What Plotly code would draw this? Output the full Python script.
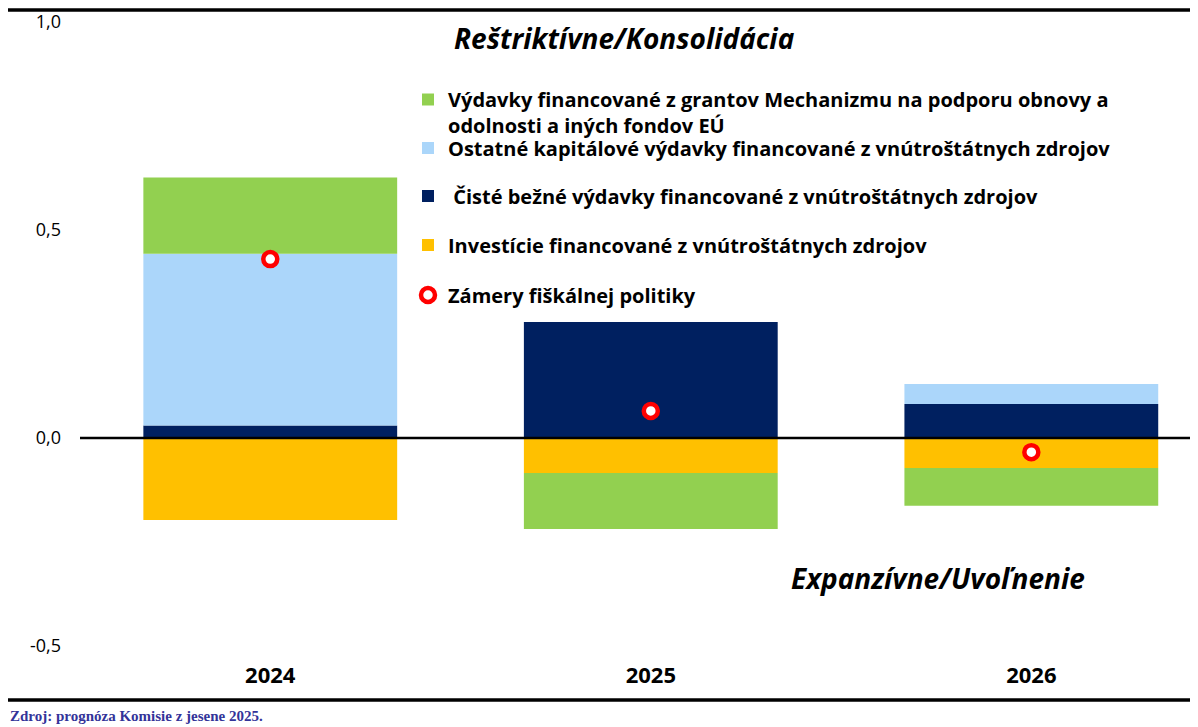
import plotly.graph_objects as go

years = ["2024", "2025", "2026"]
investicie = [-0.197, -0.084, -0.072]
ciste_bezne = [0.030, 0.279, 0.082]
ostatne_kap = [0.413, 0.0, 0.048]
granty = [0.183, -0.135, -0.091]
zamery = [0.43, 0.065, -0.034]
y_ticks = [-0.5, 0.0, 0.5, 1.0]
y_ticktext = ["-0,5", "0,0", "0,5", "1,0"]

names = {
    "granty": "Výdavky financované z grantov Mechanizmu na podporu obnovy a<br>odolnosti a iných fondov EÚ",
    "ostatne": "Ostatné kapitálové výdavky financované z vnútroštátnych zdrojov",
    "ciste": "\u00a0Čisté bežné výdavky financované z vnútroštátnych zdrojov",
    "invest": "Investície financované z vnútroštátnych zdrojov",
    "zamery": "Zámery fiškálnej politiky",
}

FONT = "Open Sans"
OFF = 8  # page body margin offset
W, H = 1198 - OFF, 727 - OFF
PL, PR, PT, PB = 80, 1198, 22, 646  # plot area in page pixels
ML, MR, MT, MB = PL - OFF, 1198 - PR, PT - OFF, 727 - PB
PW, PH = PR - PL, PB - PT

def px_x(x):
    return (x - PL) / PW

def px_y(y):
    return (PB - y) / PH

fig = go.Figure()
fig.add_bar(x=years, y=investicie, name=names["invest"], marker_color="#FFC000", marker_line_width=0, legend="legend4")
fig.add_bar(x=years, y=ciste_bezne, name=names["ciste"], marker_color="#002060", marker_line_width=0, legend="legend3")
fig.add_bar(x=years, y=ostatne_kap, name=names["ostatne"], marker_color="#ABD6FA", marker_line_width=0, legend="legend2")
fig.add_bar(x=years, y=granty, name=names["granty"], marker_color="#92D050", marker_line_width=0, legend="legend")
fig.add_scatter(x=years, y=zamery, name=names["zamery"], mode="markers",
                marker=dict(symbol="circle", size=14, color="white", line=dict(color="#FF0000", width=4.5)),
                legend="legend5")

leg_font = dict(family=FONT, size=20, color="black", weight="bold")
legend_common = dict(font=leg_font, bgcolor="rgba(0,0,0,0)", borderwidth=0, xanchor="left", yanchor="middle",
                     valign="top", tracegroupgap=0)
legend_ys = [100, 148, 196, 245, 295]
lx = px_x(408)
layout_legends = {}
for i, yy in enumerate(legend_ys):
    key = "legend" if i == 0 else f"legend{i+1}"
    d = dict(legend_common)
    d.update(x=lx, y=px_y(yy))
    if i == 0:
        d.update(yanchor="top", y=px_y(yy - 20))
    layout_legends[key] = d

fig.update_layout(
    width=W, height=H,
    margin=dict(l=ML, r=MR, t=MT, b=MB),
    plot_bgcolor="white", paper_bgcolor="white",
    barmode="relative", bargap=0.333,
    font=dict(family=FONT, color="black"),
    showlegend=True,
    xaxis=dict(type="category", range=[-0.5, 2.438], showgrid=False, showline=False, zeroline=False,
               ticks="", tickfont=dict(family=FONT, size=22, color="black", weight="bold"),
               ticklabelstandoff=14),
    yaxis=dict(range=[-0.5, 1.0], tickvals=y_ticks, ticktext=y_ticktext, showgrid=False,
               zeroline=False, showline=False, ticks="", tickfont=dict(family=FONT, size=18, color="black"),
               ticklabelstandoff=18),
    **layout_legends,
)

# zero reference line above bars
fig.add_shape(type="line", xref="paper", yref="y", x0=0, x1=px_x(1215), y0=0, y1=0,
              line=dict(color="black", width=2.5), layer="above")
# top and bottom rules
for yy in (10, 700):
    fig.add_shape(type="line", xref="paper", yref="paper", x0=px_x(0), x1=px_x(1215), y0=px_y(yy), y1=px_y(yy),
                  line=dict(color="black", width=3.5), layer="above")

fig.add_annotation(text="<b><i>Reštriktívne/Konsolidácia</i></b>", xref="paper", yref="paper",
                   x=px_x(624), y=px_y(38), xanchor="center", yanchor="middle", showarrow=False,
                   font=dict(family=FONT, size=28, color="black"))
fig.add_annotation(text="<b><i>Expanzívne/Uvoľnenie</i></b>", xref="paper", yref="paper",
                   x=px_x(938), y=px_y(578), xanchor="center", yanchor="middle", showarrow=False,
                   font=dict(family=FONT, size=28, color="black"))
fig.add_annotation(text="<b>Zdroj: prognóza Komisie z jesene 2025.</b>", xref="paper", yref="paper",
                   x=px_x(OFF), y=px_y(716), xanchor="left", yanchor="middle", showarrow=False,
                   font=dict(family="Liberation Serif", size=15, color="#333399"))

fig.write_html("out.html")
